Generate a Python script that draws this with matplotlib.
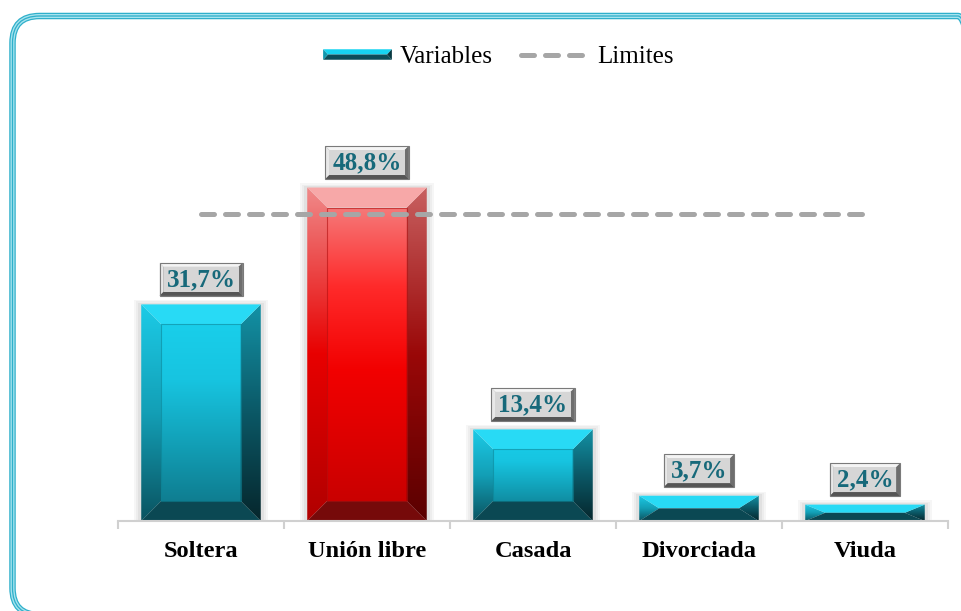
import numpy as np
import matplotlib
matplotlib.use('Agg')
import matplotlib.pyplot as plt
from matplotlib.patches import Polygon, Rectangle, FancyBboxPatch, Patch
from matplotlib.lines import Line2D
from matplotlib.legend_handler import HandlerBase
from matplotlib.colors import to_rgb
from matplotlib.transforms import IdentityTransform

categories = ['Soltera', 'Unión libre', 'Casada', 'Divorciada', 'Viuda']
values = [31.7, 48.8, 13.4, 3.7, 2.4]
labels = ['31,7%', '48,8%', '13,4%', '3,7%', '2,4%']
limit_value = 45.0
highlight_index = 1
legend_labels = ['Variables', 'Limites']

plt.rcParams['font.family'] = ['Liberation Serif', 'DejaVu Serif']

W, H = 961, 611
fig = plt.figure(figsize=(W / 100, H / 100), dpi=100)
ax = fig.add_axes([118 / W, 90 / H, 830 / W, 451 / H])
YMAX = 66
ax.set_xlim(-0.5, 4.5)
ax.set_ylim(0, YMAX)

cyan_style = dict(
    face=[(0.0, '#0E7284'), (0.35, '#129FB6'), (0.65, '#17C4E0'), (1.0, '#1AD2EE')],
    left=[(0.0, '#0A5360'), (0.5, '#139FB6'), (1.0, '#1CCBE7')],
    right=[(0.0, '#06262C'), (0.5, '#0B5866'), (1.0, '#1392A6')],
    top='#28DAF5', bottom='#0B4853', line='#0E8597')
red_style = dict(
    face=[(0.0, '#C40000'), (0.45, '#F20000'), (0.7, '#FF2A2A'), (1.0, '#F38D8D')],
    left=[(0.0, '#B00000'), (0.5, '#E80000'), (1.0, '#F08A8A')],
    right=[(0.0, '#5A0000'), (0.5, '#9A0808'), (1.0, '#C86060')],
    top='#F7A8A8', bottom='#760A0A', line='#B01010')


def grad_img(stops, n=256):
    pos = np.array([s[0] for s in stops])
    cols = np.array([to_rgb(s[1]) for s in stops])
    t = np.linspace(0, 1, n)
    img = np.stack([np.interp(t, pos, cols[:, k]) for k in range(3)], axis=-1)
    return np.clip(img, 0, 1)[:, None, :]


bars = ax.bar(range(len(values)), values, width=0.72, color='none',
              edgecolor='none', zorder=2)

px_x = (830 / 5)
px_y = 451 / YMAX
bev_x = 20 / px_x
bev_y = 20 / px_y

for i, p in enumerate(bars.patches):
    st = red_style if i == highlight_index else cyan_style
    x0 = p.get_x(); w = p.get_width(); h = p.get_height(); x1 = x0 + w
    bt = min(bev_y, h / 2)
    bb = min(bev_y, h / 2)
    # soft shadow
    for k, a in [(7, 0.05), (5, 0.06), (3, 0.08)]:
        dx = k / px_x; dy = k / px_y
        ax.add_patch(Rectangle((x0 - dx, 0), w + 2 * dx, h + dy * 0.6,
                               facecolor='#606060', edgecolor='none',
                               alpha=a, zorder=1.5, clip_on=False))
    regions = {
        'face': [(x0 + bev_x, bb), (x1 - bev_x, bb), (x1 - bev_x, h - bt), (x0 + bev_x, h - bt)],
        'left': [(x0, 0), (x0 + bev_x, bb), (x0 + bev_x, h - bt), (x0, h)],
        'right': [(x1, 0), (x1 - bev_x, bb), (x1 - bev_x, h - bt), (x1, h)],
    }
    for name, verts in regions.items():
        poly = Polygon(verts, closed=True, transform=ax.transData,
                       facecolor='none', edgecolor='none')
        im = ax.imshow(grad_img(st[name]), extent=[x0, x1, 0, h],
                       origin='lower', aspect='auto', interpolation='bilinear',
                       zorder=2.1)
        im.set_clip_path(poly)
    ax.add_patch(Polygon([(x0, h), (x0 + bev_x, h - bt), (x1 - bev_x, h - bt), (x1, h)],
                         closed=True, facecolor=st['top'], edgecolor='none', zorder=2.2))
    ax.add_patch(Polygon([(x0, 0), (x0 + bev_x, bb), (x1 - bev_x, bb), (x1, 0)],
                         closed=True, facecolor=st['bottom'], edgecolor='none', zorder=2.2))
    if h - bt > bb:
        ax.add_patch(Rectangle((x0 + bev_x, bb), w - 2 * bev_x, h - bt - bb,
                               facecolor='none', edgecolor=st['line'], lw=0.8,
                               alpha=0.6, zorder=2.3))

ax.set_xlim(-0.5, 4.5)
ax.set_ylim(0, YMAX)

# limit line
ax.plot([0, len(values) - 1], [limit_value, limit_value], color='#A6A6A6', lw=3.6,
        dashes=(2.6, 2.2), dash_capstyle='round', zorder=5)

# axis styling
for s in ['top', 'left', 'right']:
    ax.spines[s].set_visible(False)
ax.spines['bottom'].set_color('#D0D0D0')
ax.spines['bottom'].set_linewidth(1.5)
ax.set_yticks([])
ax.set_xticks(range(len(categories)))
ax.set_xticklabels(categories, fontsize=17.6, fontweight='bold')
ax.set_xticks(np.arange(-0.5, len(categories), 1), minor=True)
ax.tick_params(axis='x', which='major', length=0, pad=14.5)
ax.tick_params(axis='x', which='minor', length=6, color='#D0D0D0', width=1.5)
ax.patch.set_alpha(0)

# value labels
texts = []
for i, (v, lab) in enumerate(zip(values, labels)):
    t = ax.annotate(lab, xy=(i, v), xytext=(0, 18), textcoords='offset points',
                    ha='center', va='center', fontsize=18, fontweight='bold',
                    color='#17697A', zorder=8, annotation_clip=False)
    texts.append(t)


# legend
class BevelHandler(HandlerBase):
    def create_artists(self, legend, orig_handle, xdescent, ydescent, width,
                       height, fontsize, trans):
        hh = height * 0.6
        x0 = -xdescent
        y0 = -ydescent + (height - hh) / 2
        ym = y0 + hh / 2
        b = width * 0.07
        x1 = x0 + width
        y1 = y0 + hh
        arts = [
            Polygon([(x0, y1), (x1, y1), (x1 - b, ym), (x0 + b, ym)], facecolor='#17D4F1', edgecolor='none'),
            Polygon([(x0, y0), (x1, y0), (x1 - b, ym), (x0 + b, ym)], facecolor='#0C4E5A', edgecolor='none'),
            Polygon([(x0, y0), (x0, y1), (x0 + b, ym)], facecolor='#1098AD', edgecolor='none'),
            Polygon([(x1, y0), (x1, y1), (x1 - b, ym)], facecolor='#073840', edgecolor='none'),
        ]
        for a in arts:
            a.set_transform(trans)
        return arts


h1 = Patch(facecolor='#17D4F1')
h2 = Line2D([0], [0], color='#A6A6A6', lw=3.6, dashes=(2.6, 2.2), dash_capstyle='round')
fig.legend([h1, h2], legend_labels, handler_map={Patch: BevelHandler()},
           loc='center', bbox_to_anchor=(498.5 / W, 1 - 57 / H), ncol=2,
           frameon=False, fontsize=18, handlelength=2.75, handletextpad=0.3,
           columnspacing=1.15)

# frame
for lw, col in [(6.5, '#2FB0CB'), (4.0, '#A8E3EE'), (1.3, '#2FB0CB')]:
    fr = FancyBboxPatch((12.5 / 100, -4 / 100), (985 - 12.5) / 100, (611 - 16 + 4) / 100,
                        boxstyle='round,pad=0,rounding_size=0.27',
                        transform=fig.dpi_scale_trans, facecolor='none',
                        edgecolor=col, lw=lw * 0.72, clip_on=False)
    fig.add_artist(fr)

# bevel boxes behind value labels
fig.canvas.draw()
renderer = fig.canvas.get_renderer()
for t in texts:
    bb = t.get_window_extent(renderer)
    L = bb.x0 - 7; R = bb.x1 + 7
    cy = (bb.y0 + bb.y1) / 2
    B = cy - 16.5; T = cy + 16.5
    b = 4
    polys = [
        ([(L, B), (R, B), (R, T), (L, T)], '#9A9A9A'),
        ([(L, T), (R, T), (R - b, T - b), (L + b, T - b)], '#F4F4F4'),
        ([(L, B), (L, T), (L + b, T - b), (L + b, B + b)], '#E8E8E8'),
        ([(R, B), (R, T), (R - b, T - b), (R - b, B + b)], '#6E6E6E'),
        ([(L, B), (R, B), (R - b, B + b), (L + b, B + b)], '#555555'),
        ([(L + b, B + b), (R - b, B + b), (R - b, T - b), (L + b, T - b)], '#D6D6D6'),
    ]
    for verts, col in polys:
        ax.add_patch(Polygon(verts, closed=True, facecolor=col, edgecolor='none',
                             transform=IdentityTransform(), zorder=7, clip_on=False))
    ax.add_patch(Polygon([(L, B), (R, B), (R, T), (L, T)], closed=True, facecolor='none',
                         edgecolor='#7A7A7A', lw=0.8, transform=IdentityTransform(),
                         zorder=7.5, clip_on=False))

ax.set_xlim(-0.5, 4.5)
ax.set_ylim(0, YMAX)
fig.savefig('out.png', dpi=100)
